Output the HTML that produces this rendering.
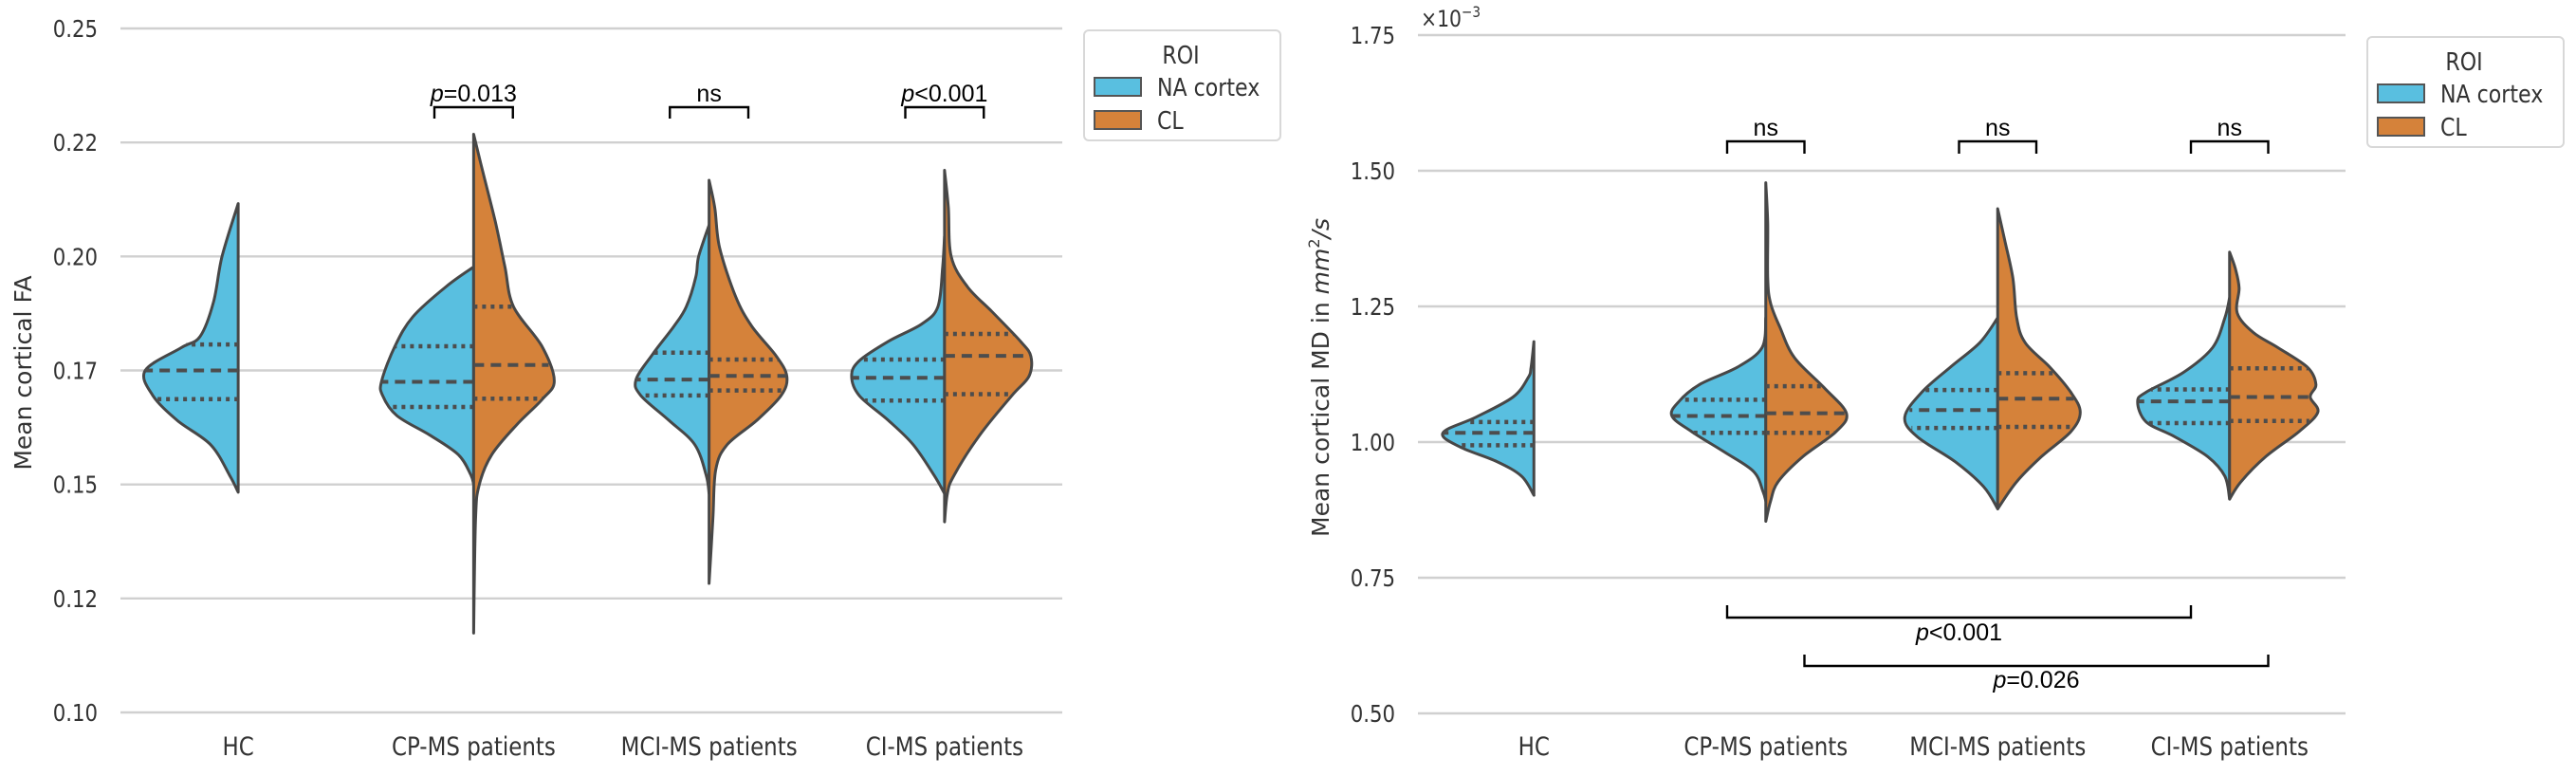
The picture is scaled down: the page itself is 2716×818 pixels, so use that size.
<!DOCTYPE html>
<html><head><meta charset="utf-8"><title>Violin plots</title>
<style>
html,body{margin:0;padding:0;background:#fff;}
svg{display:block;}
</style></head>
<body>
<svg id="fig" xmlns="http://www.w3.org/2000/svg" width="2716" height="818" viewBox="0 0 2716 818"></svg>
<script>
// ---------- DATA ----------
const categories = ["HC","CP-MS patients","MCI-MS patients","CI-MS patients"];
const hues = ["NA cortex","CL"];
// Left panel (FA) density profiles: [value, relative half-width]
const faNA = [
 [[0.2116,0],[0.200,0.17],[0.190,0.26],[0.1825,0.40],[0.180,0.60],[0.175,0.98],[0.1695,0.90],[0.164,0.64],[0.1587,0.29],[0.152,0.09],[0.1483,0]],
 [[0.1977,0],[0.1934,0.29],[0.1868,0.64],[0.1803,0.83],[0.1727,0.97],[0.1695,0.96],[0.1651,0.81],[0.1608,0.46],[0.1565,0.16],[0.1521,0.03],[0.150,0]],
 [[0.2069,0],[0.200,0.11],[0.1955,0.14],[0.189,0.24],[0.1847,0.37],[0.1787,0.59],[0.173,0.77],[0.1695,0.72],[0.164,0.42],[0.1587,0.15],[0.152,0.03],[0.148,0]],
 [[0.2044,0],[0.1977,0.02],[0.189,0.07],[0.1852,0.24],[0.1814,0.59],[0.1771,0.90],[0.1738,0.98],[0.1695,0.90],[0.164,0.59],[0.1587,0.33],[0.152,0.11],[0.148,0]]
];
const faCL = [
 null,
 [[0.2268,0],[0.2183,0.10],[0.2075,0.23],[0.1977,0.33],[0.189,0.42],[0.1803,0.72],[0.1727,0.85],[0.1686,0.72],[0.163,0.45],[0.1565,0.19],[0.150,0.06],[0.1424,0.02],[0.1174,0]],
 [[0.2167,0],[0.2107,0.06],[0.202,0.11],[0.1912,0.28],[0.1847,0.45],[0.1781,0.71],[0.1737,0.82],[0.1695,0.76],[0.164,0.50],[0.1587,0.19],[0.1532,0.07],[0.1424,0.04],[0.1283,0]],
 [[0.2189,0],[0.2107,0.04],[0.200,0.07],[0.1934,0.24],[0.1879,0.50],[0.1814,0.80],[0.1781,0.91],[0.1737,0.89],[0.1695,0.71],[0.1608,0.37],[0.152,0.10],[0.148,0.03],[0.1418,0]]
];
const faNAQ = [[0.1807,0.175,0.1687],[0.1803,0.1725,0.167],[0.1789,0.173,0.1695],[0.1774,0.1734,0.1684]];
const faCLQ = [null,[0.189,0.1762,0.1688],[0.1774,0.1738,0.1706],[0.183,0.1782,0.1698]];
const faTicks = [0.100,0.125,0.150,0.175,0.200,0.225,0.250];
const faTickLabels = ["0.10","0.12","0.15","0.17","0.20","0.22","0.25"];
const faPairLabels = [null,"=0.013","ns","<0.001"];

// Right panel (MD, x1e-3)
const mdNA = [
 [[1.185,0],[1.138,0.03],[1.119,0.06],[1.083,0.22],[1.046,0.61],[1.017,0.96],[0.991,0.78],[0.964,0.39],[0.937,0.13],[0.902,0]],
 [[1.229,0],[1.174,0.04],[1.138,0.30],[1.106,0.70],[1.074,0.92],[1.048,0.99],[1.019,0.78],[0.982,0.44],[0.946,0.13],[0.909,0.03],[0.891,0]],
 [[1.229,0],[1.183,0.19],[1.138,0.50],[1.092,0.80],[1.046,0.98],[1.010,0.85],[0.964,0.45],[0.918,0.15],[0.877,0]],
 [[1.266,0],[1.229,0.05],[1.174,0.18],[1.128,0.49],[1.092,0.88],[1.074,0.97],[1.037,0.88],[1.010,0.58],[0.973,0.23],[0.937,0.05],[0.895,0]]
];
const mdCL = [
 null,
 [[1.478,0],[1.403,0.02],[1.302,0.02],[1.256,0.05],[1.211,0.15],[1.156,0.30],[1.101,0.61],[1.053,0.85],[1.019,0.74],[0.973,0.39],[0.927,0.13],[0.891,0.05],[0.854,0]],
 [[1.430,0],[1.375,0.07],[1.302,0.16],[1.229,0.20],[1.183,0.29],[1.138,0.55],[1.092,0.77],[1.055,0.87],[1.019,0.77],[0.973,0.46],[0.927,0.20],[0.877,0]],
 [[1.350,0],[1.320,0.06],[1.284,0.10],[1.238,0.08],[1.202,0.25],[1.174,0.51],[1.138,0.82],[1.106,0.91],[1.083,0.85],[1.055,0.93],[1.019,0.73],[0.973,0.38],[0.927,0.12],[0.895,0]]
];
const mdNAQ = [[1.037,1.017,0.994],[1.078,1.048,1.017],[1.096,1.059,1.026],[1.097,1.075,1.035]];
const mdCLQ = [null,[1.103,1.053,1.017],[1.127,1.080,1.028],[1.136,1.083,1.039]];
const mdTicks = [0.50,0.75,1.00,1.25,1.50,1.75];
const mdTickLabels = ["0.50","0.75","1.00","1.25","1.50","1.75"];
const mdPairLabels = [null,"ns","ns","ns"];

// ---------- DRAW ----------
const NS="http://www.w3.org/2000/svg";
const svg=document.getElementById('fig');
const BLUE="#59bfe0", ORANGE="#d5823a", EDGE="#474747";
function el(tag,attrs,parent){const e=document.createElementNS(NS,tag);for(const k in attrs)e.setAttribute(k,attrs[k]);(parent||svg).appendChild(e);return e;}
function crPath(pts){let d="M"+pts[0][0]+","+pts[0][1];
 for(let i=0;i<pts.length-1;i++){const p0=pts[Math.max(0,i-1)],p1=pts[i],p2=pts[i+1],p3=pts[Math.min(pts.length-1,i+2)];
  const c1=[p1[0]+(p2[0]-p0[0])/6,p1[1]+(p2[1]-p0[1])/6],c2=[p2[0]-(p3[0]-p1[0])/6,p2[1]-(p3[1]-p1[1])/6];
  d+=" C"+c1[0].toFixed(1)+","+c1[1].toFixed(1)+" "+c2[0].toFixed(1)+","+c2[1].toFixed(1)+" "+p2[0].toFixed(1)+","+p2[1].toFixed(1);}
 return d;}
function widthAt(prof,v){for(let i=0;i<prof.length-1;i++){const a=prof[i],b=prof[i+1];if(v<=a[0]&&v>=b[0]){const t=(a[0]-v)/(a[0]-b[0]);return a[1]+t*(b[1]-a[1]);}}return 0;}

function panel(o){
 const g=el('g',{});
 
 
 const yS=v=>o.y0+(o.vmax-v)/(o.vmax-o.vmin)*(o.y1-o.y0);
 const slot=(o.x1-o.x0)/categories.length;
 const xS=i=>o.x0+slot*(i+0.5);
 o.ticks.forEach((t,i)=>{
  const ln=el('line',{x1:o.x0,x2:o.x1,y1:yS(t),y2:yS(t),stroke:"#d0d0d0","stroke-width":2.4},g);
  
  
  const tx=el('text',{transform:`translate(${o.tickX},${yS(t)+9}) scale(0.85,1)`,"text-anchor":"end","font-family":"DejaVu Sans, sans-serif","font-size":25,fill:"#333"},g);
  tx.textContent=o.tickLabels[i];
  
  
 });
 categories.forEach((c,i)=>{
  const tx=el('text',{transform:`translate(${xS(i)},796) scale(0.85,1)`,"text-anchor":"middle","font-family":"DejaVu Sans, sans-serif","font-size":27,fill:"#333"},g);
  tx.textContent=c;
  
  
 });
 const W=100;
 function half(prof,q,i,side,color){
  if(!prof) return;
  const cx=xS(i);
  const pts=prof.map(p=>[cx+side*p[1]*W,yS(p[0])]);
  const top=yS(prof[0][0]),bot=yS(prof[prof.length-1][0]);
  const d=crPath(pts)+` L${cx},${bot} L${cx},${top} Z`;
  const p=el('path',{d:d,fill:color,stroke:EDGE,"stroke-width":3,"stroke-linejoin":"round"},g);
  
  
  q.forEach((v,k)=>{
   const w=widthAt(prof,v)*W;
   const l=el('line',{x1:cx,x2:cx+side*w,y1:yS(v),y2:yS(v),stroke:"#4d4d4d","stroke-width":k==1?4:4.5,"stroke-dasharray":k==1?"11,7":"4,5"},g);
   
   
  });
 }
 categories.forEach((c,i)=>{half(o.na[i],o.naQ[i],i,-1,BLUE);half(o.cl[i],o.clQ[i],i,1,ORANGE);});
 o.pairs.forEach((lab,i)=>{
  if(!lab) return;
  const cx=xS(i),a=cx-slot/6,b=cx+slot/6;
  const br=el('path',{d:`M${a},${o.brB} L${a},${o.brT} L${b},${o.brT} L${b},${o.brB}`,fill:"none",stroke:"#000","stroke-width":2.4},g);
  
  
  const tx=el('text',{x:cx,y:o.brT-6,"text-anchor":"middle","font-family":"Liberation Sans, sans-serif","font-size":25,fill:"#000"},g);
  if(lab!=="ns"){const ts=el('tspan',{"font-style":"italic"},tx);ts.textContent="p";const t2=el('tspan',{},tx);t2.textContent=lab;}
  else tx.textContent=lab;
  
  
 });
 const yl=el('text',{transform:`translate(${o.ylX},${o.ylY}) rotate(-90)`,"text-anchor":"middle","font-family":"DejaVu Sans, sans-serif","font-size":25,fill:"#333"},g);
 yl.innerHTML=o.ylabel;
 
 
 const L=el('g',{},g);
 
 
 const lx=o.x1+23, ly=o.y0+2;
 el('rect',{x:lx,y:ly,width:207,height:116,rx:5,fill:"#fff",stroke:"#d8d8d8","stroke-width":2},L);
 const t=el('text',{transform:`translate(${lx+102},${ly+35}) scale(0.85,1)`,"text-anchor":"middle","font-family":"DejaVu Sans, sans-serif","font-size":26,fill:"#333"},L);t.textContent="ROI";
 
 
 hues.forEach((h,k)=>{
  const yy=ly+50+k*35;
  const r=el('rect',{x:lx+11,y:yy,width:49,height:19,fill:k?ORANGE:BLUE,stroke:"#555","stroke-width":2},L);
  
  
  const tt=el('text',{transform:`translate(${lx+77},${yy+19}) scale(0.85,1)`,"font-family":"DejaVu Sans, sans-serif","font-size":26,fill:"#333"},L);tt.textContent=h;
  
  
 });
 return {g,xS,yS};
}

panel({name:'fa-chart',x0:127,x1:1120,y0:30,y1:751,vmin:0.10,vmax:0.25,ticks:faTicks,tickLabels:faTickLabels,tickX:103,
 na:faNA,cl:faCL,naQ:faNAQ,clQ:faCLQ,pairs:faPairLabels,brT:113,brB:125,ylX:33,ylY:393,ylabel:"Mean cortical FA"});
const R=panel({name:'md-chart',x0:1495,x1:2473,y0:37,y1:752,vmin:0.50,vmax:1.75,ticks:mdTicks,tickLabels:mdTickLabels,tickX:1471,
 na:mdNA,cl:mdCL,naQ:mdNAQ,clQ:mdCLQ,pairs:mdPairLabels,brT:149,brB:162,ylX:1401,ylY:398,
 ylabel:'Mean cortical MD in <tspan font-style="italic">mm</tspan><tspan font-size="16" dy="-10">2</tspan><tspan dy="10" font-style="italic">/s</tspan>'});

const off=el('text',{transform:"translate(1498,28) scale(0.85,1)","font-family":"DejaVu Sans, sans-serif","font-size":24,fill:"#333"});
off.innerHTML='×10<tspan font-size="16" dy="-10">−3</tspan>';



const groupPairs=[[1,3,"<0.001"],[1,3,"=0.026"]];
const gpY=[[638,651,675],[690,702,725]];
const gpShift=[-1,1];
groupPairs.forEach((gp,k)=>{
 const slot=(2473-1495)/4;
 const a=R.xS(gp[0])+gpShift[k]*slot/6, b=R.xS(gp[1])+gpShift[k]*slot/6;
 const [t,h,ty]=gpY[k];
 const br=el('path',{d:`M${a},${t} L${a},${h} L${b},${h} L${b},${t}`,fill:"none",stroke:"#000","stroke-width":2.4});
 
 
 const tx=el('text',{x:(a+b)/2,y:ty,"text-anchor":"middle","font-family":"Liberation Sans, sans-serif","font-size":25,fill:"#000"});
 const s1=el('tspan',{"font-style":"italic"},tx);s1.textContent="p";
 const s2=el('tspan',{},tx);s2.textContent=gp[2];
 
 
});
</script>
</body></html>
